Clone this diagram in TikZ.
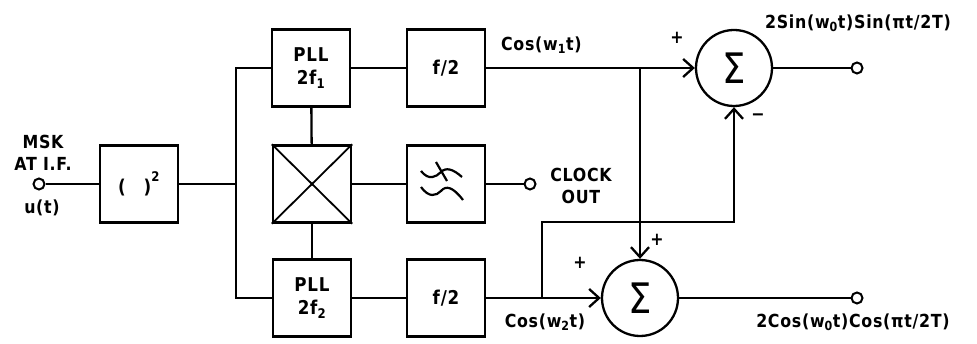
\documentclass[tikz,border=0pt]{standalone}
\usepackage{fontspec}
\setmainfont{DejaVu Sans}[LetterSpace=4, FakeStretch=0.88]
\usetikzlibrary{arrows.meta}
\newcommand\dgfont{\fontsize{18}{22}\selectfont\bfseries}
\newcommand\blkfont{\fontsize{19}{23}\selectfont\bfseries}
\begin{document}
\begin{tikzpicture}[x=1pt,y=-1pt,line width=2.3pt,
  blk/.style={draw, minimum width=78pt, minimum height=77pt, inner sep=0pt, align=center, font=\blkfont},
  sumnode/.style={draw, circle, minimum size=76pt, inner sep=0pt, font=\fontsize{42}{42}\selectfont},
  term/.style={draw, circle, minimum size=11pt, inner sep=0pt, fill=white, line width=2pt},
  lbl/.style={inner sep=0pt, font=\dgfont, align=center},
  arr/.style={-{Straight Barb[length=10pt,width=18pt]}}]
\useasboundingbox (0,0) rectangle (977,344);

% blocks
\node[blk] (sq) at (139,184) {(\hspace{18pt})\raisebox{0.6ex}{\textsuperscript{2}}};
\node[blk] (pll1) at (311,68) {PLL\\2f\textsubscript{1}};
\node[blk] (fa) at (446,68) {f/2};
\node[blk] (mult) at (312,184) {};
\node[blk] (filt) at (446,184) {};
\node[blk] (pll2) at (312,298) {PLL\\2f\textsubscript{2}};
\node[blk] (fb) at (446,298) {f/2};
\node[sumnode] (s1) at (734,68) {Σ};
\node[sumnode] (s2) at (640,298) {Σ};

% terminals
\node[term] (tin) at (39,184) {};
\node[term] (tclk) at (530,184) {};
\node[term] (t1) at (857,68) {};
\node[term] (t2) at (857,298) {};

% multiplier cross
\draw[line width=1.8pt] (mult.north west) -- (mult.south east) (mult.north east) -- (mult.south west);

% filter glyph
\begin{scope}[shift={(filt.center)}, line width=2.2pt]
  \draw (-25,-13) .. controls (-17,-3) and (-10,-7) .. (-5,-12) .. controls (0,-17) and (7,-15) .. (16,-7);
  \draw (-25,3) .. controls (-17,14) and (-10,12) .. (-5,7) .. controls (0,1) and (7,3) .. (17,16);
  \draw (-10,-22) -- (1,-3);
\end{scope}

% coordinates
\coordinate (bus) at (236,184);
\coordinate (j1) at (640,68);
\coordinate (j2) at (542,298);
\coordinate (j3) at (734,222);

% connections
\draw (tin) -- (sq);
\draw (sq) -- (bus);
\draw (pll1.west) -| (bus) |- (pll2.west);
\draw (pll1) -- (fa);
\draw (pll1) -- (mult);
\draw (mult) -- (pll2);
\draw (mult) -- (filt);
\draw (filt) -- (tclk);
\draw (pll2) -- (fb);
\draw[arr] (fa.east) -- (s1.west);
\draw[arr] (j1) -- (s2.north);
\draw[arr] (fb.east) -- (s2.west);
\draw[arr] (j2) |- (j3) -- (s1.south);
\draw (s1) -- (t1);
\draw (s2) -- (t2);

% labels
\node[lbl] (lmsk) at (43,153) {MSK\\AT I.F.};
\node[lbl] (lu) at (42,208) {u(t)};
\node[lbl] (lclk) at (581,186) {CLOCK\\OUT};
\node[lbl, anchor=west] (lc1) at (500,45) {Cos(w\textsubscript{1}t)};
\node[lbl] (lc2) at (545,322) {Cos(w\textsubscript{2}t)};
\node[lbl] (lo1) at (858,23) {2Sin(w\textsubscript{0}t)Sin(πt/2T)};
\node[lbl] (lo2) at (853,322) {2Cos(w\textsubscript{0}t)Cos(πt/2T)};
\node[lbl] (p1) at (677,38) {+};
\node[lbl] (m1) at (758,117) {−};
\node[lbl] (p2) at (580,263) {+};
\node[lbl] (p3) at (657,240) {+};
\end{tikzpicture}
\end{document}
